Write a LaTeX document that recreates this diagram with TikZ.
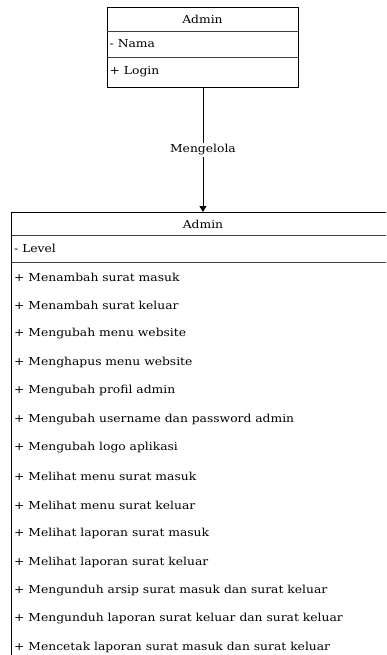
\documentclass[tikz,border=0pt]{standalone}
\usepackage{fontspec}
\setmainfont{DejaVu Serif}[FakeStretch=1.12]
\usetikzlibrary{arrows.meta}
\tikzset{
  classbox/.style={draw=black, line width=0.9pt, rectangle, inner sep=0pt, anchor=north west},
  divider/.style={draw=black!75, line width=0.9pt},
  member/.style={anchor=west, inner sep=0pt, font=\fontsize{11}{13}\selectfont},
  title/.style={anchor=center, inner sep=0pt, font=\fontsize{11}{13}\selectfont},
  assoc/.style={draw=black, line width=0.9pt, -{Triangle[length=6pt,width=7pt]}},
  assoclabel/.style={fill=white, inner sep=1.5pt, font=\fontsize{11}{13}\selectfont}
}
\begin{document}
\begin{tikzpicture}[x=1pt,y=-1pt]
\useasboundingbox (0,0) rectangle (386,655);
\begin{scope}
\clip (0,0) rectangle (386,655);
% top class
\node[classbox, minimum width=191pt, minimum height=80pt] (top) at (107,7) {};
\draw[divider] (107,31) -- (298,31);
\draw[divider] (107,57) -- (298,57);
\node[title] (topname) at (202.5,19) {Admin};
\node[member] (nama) at (109.5,44) {- Nama};
\node[member] (login) at (109.5,72) {+ Login};
% bottom class
\node[classbox, minimum width=384pt, minimum height=470pt] (big) at (11,212) {};
\draw[divider] (11,235) -- (395,235);
\draw[divider] (11,262) -- (395,262);
\node[title] (bigname) at (203,224) {Admin};
\node[member] (level) at (14,248) {- Level};
\foreach \t [count=\i from 0] in {
  Menambah surat masuk,
  Menambah surat keluar,
  Mengubah menu website,
  Menghapus menu website,
  Mengubah profil admin,
  Mengubah username dan password admin,
  Mengubah logo aplikasi,
  Melihat menu surat masuk,
  Melihat menu surat keluar,
  Melihat laporan surat masuk,
  Melihat laporan surat keluar,
  Mengunduh arsip surat masuk dan surat keluar,
  Mengunduh laporan surat keluar dan surat keluar,
  Mencetak laporan surat masuk dan surat keluar}
  \node[member] (m\i) at (14,{277+28.5*\i}) {+ \t};
\end{scope}
% association
\draw[assoc] (top.south) -- node[assoclabel] (lbl) {Mengelola} (top.south |- big.north);
\end{tikzpicture}
\end{document}
